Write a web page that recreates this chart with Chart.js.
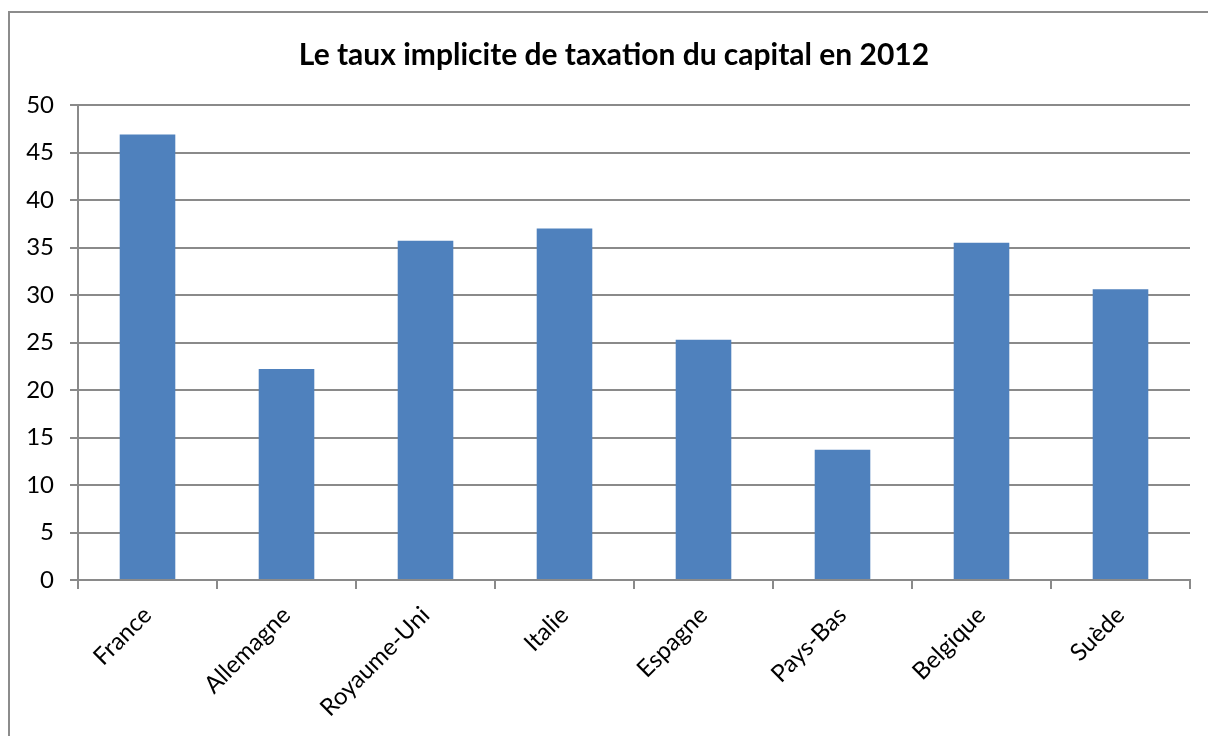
<!DOCTYPE html>
<html>
<head>
<meta charset="utf-8">
<script src="https://cdn.jsdelivr.net/npm/chart.js@4"></script>
<style>
  html, body { margin: 0; padding: 0; background: #fff; overflow: hidden; }
  #wrap { position: relative; width: 1208px; height: 736px; }
  #frame {
    position: absolute; left: 8px; top: 11px; width: 1240px; height: 800px;
    border: 2px solid #8c8c8c; box-sizing: border-box;
  }
  canvas { position: absolute; left: 0; top: 0; }
</style>
</head>
<body>
<div id="wrap">
  <div id="frame"></div>
  <canvas id="taxChart" width="1208" height="736"></canvas>
</div>
<script>
// Data
const countries = ['France', 'Allemagne', 'Royaume-Uni', 'Italie', 'Espagne', 'Pays-Bas', 'Belgique', 'Suède'];
const rates = [46.9, 22.2, 35.7, 37.0, 25.3, 13.7, 35.5, 30.6];
const chartTitle = 'Le taux implicite de taxation du capital en 2012';

const gridGrey = '#8a8a8a';
const font = 'Lato, Calibri, Carlito, "Open Sans", sans-serif';

new Chart(document.getElementById('taxChart').getContext('2d'), {
    type: 'bar',
    data: {
        labels: countries,
        datasets: [{
            label: 'Taux',
            data: rates,
            backgroundColor: '#4f81bd',
            categoryPercentage: 1,
            barPercentage: 0.4
        }]
    },
    options: {
        responsive: false,
        animation: false,
        devicePixelRatio: 1,
        // left padding shifts the title centre to match the original
        layout: { padding: { left: 20, right: 0, top: 0, bottom: 0 } },
        plugins: {
            legend: { display: false },
            tooltip: { enabled: false },
            title: {
                display: true,
                text: chartTitle,
                color: '#000',
                font: { family: font, size: 30, weight: 'bold' },
                padding: { top: 37, bottom: 32 }
            }
        },
        scales: {
            x: {
                grid: {
                    offset: true,
                    drawOnChartArea: false,
                    drawTicks: true,
                    tickLength: 9,
                    color: gridGrey,
                    lineWidth: 2
                },
                border: { display: true, color: gridGrey, width: 2 },
                ticks: {
                    color: '#000',
                    font: { family: font, size: 24 },
                    minRotation: 45,
                    maxRotation: 45,
                    padding: 12,
                    autoSkip: false
                },
                afterFit: s => { s.height = 156; s.paddingLeft = 0; s.paddingRight = 18; }
            },
            y: {
                min: 0,
                max: 50,
                grid: {
                    color: gridGrey,
                    lineWidth: 2,
                    drawTicks: true,
                    tickLength: 8
                },
                border: { display: true, color: gridGrey, width: 2 },
                ticks: {
                    stepSize: 5,
                    color: '#000',
                    font: { family: font, size: 24 },
                    padding: 16
                },
                afterFit: s => { s.width = 58; }
            }
        }
    }
});
</script>
</body>
</html>
